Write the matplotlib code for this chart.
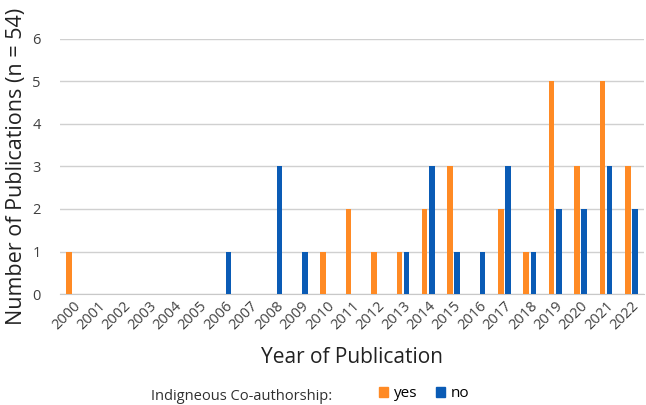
import matplotlib.pyplot as plt
import numpy as np
from matplotlib.patches import Patch

plt.rcParams['font.family'] = ['Open Sans', 'DejaVu Sans']

years = [str(y) for y in range(2000, 2023)]
yes_counts = [1, 0, 0, 0, 0, 0, 0, 0, 0, 0, 1, 2, 1, 1, 2, 3, 0, 2, 1, 5, 3, 5, 3]
no_counts = [0, 0, 0, 0, 0, 0, 1, 0, 3, 1, 0, 0, 0, 1, 3, 1, 1, 3, 1, 2, 2, 3, 2]

orange = '#FF8A24'
blue = '#0A5BB5'

fig = plt.figure(figsize=(6.46, 4.05), dpi=100)
ax = fig.add_axes([0.093, 0.274, 0.904, 0.63])

x = np.arange(len(years))
w = 0.22
ax.bar(x - 0.14, yes_counts, width=w, color=orange, zorder=3)
ax.bar(x + 0.14, no_counts, width=w, color=blue, zorder=3)

ax.set_xlim(-0.5, len(years) - 0.5)
ax.set_ylim(0, 6)
ax.set_yticks(range(7))
ax.grid(axis='y', color='#D0D0D0', linewidth=1, zorder=0)
for s in ['top', 'right', 'left']:
    ax.spines[s].set_visible(False)
ax.spines['bottom'].set_color('#C8C8C8')
ax.tick_params(axis='both', length=0, labelsize=10.5, labelcolor='#404040')
ax.tick_params(axis='y', pad=14)
ax.set_xticks(x)
ax.set_xticklabels(years, rotation=45, ha='right', rotation_mode='anchor')

ax.set_ylabel('Number of Publications (n = 54)', fontsize=15.5, color='#222222', labelpad=4)
ax.set_xlabel('Year of Publication', fontsize=15, color='#222222', labelpad=10)

fig.text(0.233, 0.012, 'Indigneous Co-authorship:', fontsize=10.5, color='#303030')
handles = [Patch(color=orange, label='yes'), Patch(color=blue, label='no')]
fig.legend(handles=handles, loc='lower left', bbox_to_anchor=(0.565, -0.025), ncol=2,
           frameon=False, fontsize=11, handlelength=0.6, handleheight=0.6,
           handletextpad=0.4, columnspacing=1.2)

fig.savefig('out.png', dpi=100)
